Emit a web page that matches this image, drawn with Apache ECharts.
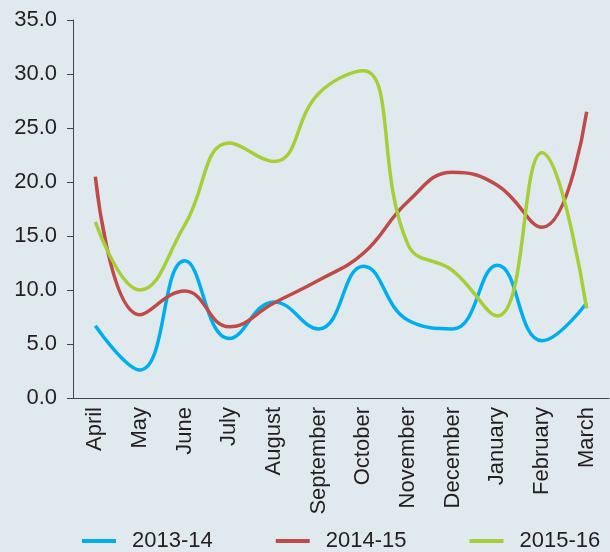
<!DOCTYPE html>
<html>
<head>
<meta charset="utf-8">
<script src="https://cdn.jsdelivr.net/npm/echarts@6/dist/echarts.min.js"></script>
<style>
  html, body { margin: 0; padding: 0; background: #e0eaee; }
  #chart { width: 610px; height: 552px; }
</style>
</head>
<body>
<div id="chart"></div>
<script>
const months = ["April", "May", "June", "July", "August", "September", "October",
  "November", "December", "January", "February", "March"];
const yTicks = [0, 5, 10, 15, 20, 25, 30, 35];
const s2013 = [6.7, 2.6, 12.7, 5.5, 8.9, 6.4, 12.2, 7.2, 6.4, 12.3, 5.3, 8.8];
const s2014 = [20.5, 7.7, 9.9, 6.6, 8.8, 10.9, 13.4, 18.2, 20.9, 19.7, 15.8, 26.5];
const s2015 = [16.3, 10.0, 16.0, 23.6, 21.9, 28.2, 30.3, 14.2, 11.8, 7.6, 22.7, 8.3];

const textColor = "#231f20";
const font = "'Liberation Sans', Arial, sans-serif";

function line(name, data, color) {
  return {
    name: name,
    type: "line",
    data: data,
    smooth: 0.45,
    symbol: "none",
    lineStyle: { color: color, width: 3.5 },
    itemStyle: { color: color }
  };
}

const chart = echarts.init(document.getElementById("chart"));
chart.setOption({
  backgroundColor: "#e0eaee",
  animation: false,
  grid: { left: 73, right: 1, top: 20, bottom: 154 },
  legend: {
    left: 82,
    top: 530,
    padding: 0,
    icon: "rect",
    itemWidth: 34,
    itemHeight: 4,
    itemGap: 63,
    textStyle: { color: textColor, fontSize: 22, fontFamily: font, padding: [0, 0, 0, 11] },
    data: ["2013-14", "2014-15", "2015-16"]
  },
  xAxis: {
    type: "category",
    data: months,
    boundaryGap: true,
    axisLine: { lineStyle: { color: "#444", width: 1 } },
    axisTick: { length: 6, lineStyle: { color: "#444" } },
    axisLabel: { rotate: 90, interval: 0, margin: 9, color: textColor, fontSize: 22, fontFamily: font }
  },
  yAxis: {
    type: "value",
    min: yTicks[0],
    max: yTicks[yTicks.length - 1],
    interval: 5,
    splitLine: { show: false },
    axisLine: { show: true, lineStyle: { color: "#444", width: 1 } },
    axisTick: { show: true, length: 6, lineStyle: { color: "#444" } },
    axisLabel: {
      margin: 16, color: textColor, fontSize: 22, fontFamily: font,
      formatter: (v) => v.toFixed(1)
    }
  },
  series: [
    line("2013-14", s2013, "#00aeef"),
    line("2014-15", s2014, "#be4b48"),
    line("2015-16", s2015, "#a6ce39")
  ]
});
</script>
</body>
</html>
